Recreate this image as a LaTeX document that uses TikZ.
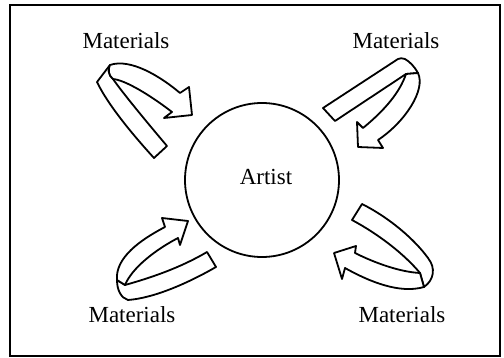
\documentclass[tikz,border=0pt]{standalone}
\usepackage{fontspec}
\setmainfont{Liberation Serif}
\begin{document}
\begin{tikzpicture}[x=1pt,y=-1pt,
  ribbon/.style={draw, fill=white, line width=1.8pt, line join=round},
  lbl/.style={font=\fontsize{23}{27}\selectfont, inner sep=0pt}]
\useasboundingbox (0,0) rectangle (504,358);
\draw[line width=2.6pt] (10,5) rectangle (500,356);
\node[circle, draw, line width=1.8pt, minimum size=154pt, inner sep=0pt] (artist) at (262,180) {};
\node[lbl] (artistlbl) at (266,177) {Artist};
\node[lbl] (m1) at (126,41) {Materials};
\node[lbl] (m2) at (396,41) {Materials};
\node[lbl] (m3) at (132,315) {Materials};
\node[lbl] (m4) at (402,315) {Materials};
% top-left
\draw[ribbon] (154,158) -- (167,146) .. controls (145,120) and (122,92) .. (113,79)
  .. controls (108,75) and (108,69) .. (110,65) -- (97,82)
  .. controls (108,105) and (133,135) .. (154,158) -- cycle;
\draw[ribbon] (110,65) .. controls (130,58) and (160,76) .. (180,93) -- (189,87) -- (192,115) -- (164,118) -- (172,112)
  .. controls (150,95) and (125,80) .. (113,79) .. controls (108,75) and (108,69) .. (110,65) -- cycle;
% top-right
\draw[ribbon] (323,108) -- (335,121) -- (406,74) -- (418,73) .. controls (414,66) and (410,62) .. (405,59)
  .. controls (402,58) and (400,58) .. (398,59) -- cycle;
\draw[ribbon] (418,73) .. controls (426,90) and (405,122) .. (378,140) -- (383,148) -- (358,147) -- (357,122) -- (363,128)
  .. controls (385,110) and (400,92) .. (406,74) -- cycle;
% bottom-left
\draw[ribbon] (207,252) -- (216,267) .. controls (190,282) and (155,298) .. (128,300)
  .. controls (121,298) and (117,290) .. (117,280) -- (125,285)
  .. controls (150,278) and (180,268) .. (207,252) -- cycle;
\draw[ribbon] (117,280) .. controls (115,258) and (140,240) .. (165,227) -- (162,218) -- (188,221) -- (180,245) -- (178,238)
  .. controls (155,250) and (132,268) .. (125,285) -- cycle;
% bottom-right
\draw[ribbon] (352,220) -- (362,204) .. controls (390,218) and (415,240) .. (428,258)
  .. controls (436,268) and (434,280) .. (424,287) -- (420,273)
  .. controls (405,255) and (380,235) .. (352,220) -- cycle;
\draw[ribbon] (424,287) .. controls (400,294) and (370,282) .. (345,268) -- (342,279) -- (334,253) -- (356,246) -- (355,253)
  .. controls (375,263) and (400,272) .. (420,273) -- cycle;
\end{tikzpicture}
\end{document}
